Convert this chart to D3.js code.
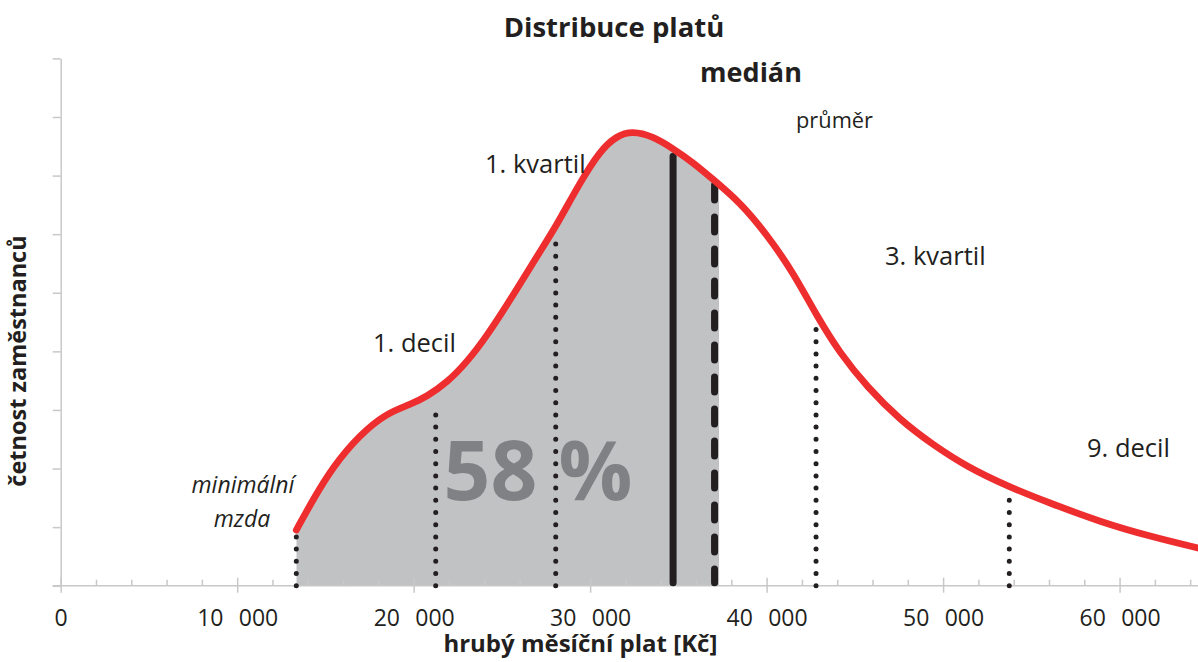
<!DOCTYPE html>
<html>
<head>
    <meta charset="utf-8">
    <title>Distribuce platů</title>
    <script src="https://d3js.org/d3.v7.min.js"></script>
    <style>
        body { margin: 0; background: #fff; }
        svg { display: block; font-family: "Open Sans", sans-serif; }
        .axis path, .axis line { stroke: #c8c8c8; stroke-width: 1.5; }
        .axis text { font-family: "Open Sans", sans-serif; font-size: 23px; fill: #231f20; }
    </style>
</head>
<body>
<div id="chart"></div>
<script>
// křivka rozdělení mezd
const salary = [13350, 14300, 15400, 16950, 18500, 19800, 20750, 21900, 23000, 24150,
    25600, 27150, 28100, 29400, 30550, 31500, 32400, 33550, 34700, 35800,
    36950, 38500, 40000, 41500, 42850, 44150, 45700, 47550, 49450, 51350,
    53700, 56050, 58900, 61750, 64500];
const frequency = [0.95, 1.47, 2.02, 2.58, 2.95, 3.09, 3.23, 3.47, 3.81, 4.26,
    4.94, 5.70, 6.15, 6.87, 7.42, 7.68, 7.76, 7.67, 7.46, 7.23,
    6.94, 6.54, 6.00, 5.35, 4.60, 3.97, 3.39, 2.83, 2.40, 2.03,
    1.69, 1.41, 1.09, 0.84, 0.64];

// svislé značky
const markerNames = ["minimální mzda", "1. decil", "1. kvartil", "medián", "průměr", "3. kvartil", "9. decil"];
const markerSalary = [13350, 21250, 28050, 34700, 37050, 42800, 53750];
const markerTop = [0.86, 3.08, 5.95, 7.33, 6.84, 4.54, 1.47];

const xTicks = [0, 10000, 20000, 30000, 40000, 50000, 60000];
const xMinorTicks = d3.range(2000, 64001, 2000).filter(d => d % 10000 !== 0);
const yTicks = d3.range(0, 10);
const shareLabel = "58 %";

const width = 1198;
const height = 662;

const svg = d3.select("#chart")
    .append("svg")
    .attr("width", width)
    .attr("height", height);

const x = d3.scaleLinear().domain([0, 64500]).range([60.7, 1199]);
const y = d3.scaleLinear().domain([0, 9]).range([585.7, 58.4]);

const points = salary.map((s, i) => [s, frequency[i]]);

// šedá plocha od minimální mzdy po průměr
const meanSalary = markerSalary[markerNames.indexOf("průměr")];
svg.append("clipPath")
    .attr("id", "share")
    .append("rect")
    .attr("x", x(markerSalary[0]))
    .attr("y", 0)
    .attr("width", x(meanSalary) - x(markerSalary[0]) + 4.5)
    .attr("height", y(0));

svg.append("path")
    .datum(points)
    .attr("clip-path", "url(#share)")
    .attr("fill", "#c1c2c4")
    .attr("d", d3.area()
        .x(d => x(d[0]))
        .y0(y(0))
        .y1(d => y(d[1]))
        .curve(d3.curveBasis));

// osy
const fmt = d3.formatLocale({ decimal: ",", thousands: "\u2002\u2009", grouping: [3], currency: ["", " Kč"] }).format(",");

const xAxis = svg.append("g")
    .attr("class", "axis")
    .attr("transform", `translate(0,${y(0)})`)
    .call(d3.axisBottom(x).tickValues(xTicks).tickSize(7).tickSizeOuter(0).tickFormat(fmt));
xAxis.select(".domain").remove();
xAxis.selectAll("text").attr("y", 40).attr("dy", null);

svg.append("g")
    .attr("class", "axis")
    .attr("transform", `translate(0,${y(0)})`)
    .call(d3.axisTop(x).tickValues(xTicks).tickSize(8).tickSizeOuter(0).tickFormat(""))
    .call(g => g.select(".domain").remove());

svg.append("g")
    .attr("class", "axis")
    .attr("transform", `translate(0,${y(0)})`)
    .call(d3.axisTop(x).tickValues(xMinorTicks).tickSize(6).tickSizeOuter(0).tickFormat(""))
    .call(g => g.select(".domain").remove());

svg.append("line")
    .attr("x1", x(0) - 8)
    .attr("x2", width)
    .attr("y1", y(0))
    .attr("y2", y(0))
    .attr("stroke", "#c8c8c8")
    .attr("stroke-width", 1.5);

svg.append("g")
    .attr("class", "axis")
    .attr("transform", `translate(${x(0)},0)`)
    .call(d3.axisLeft(y).tickValues(yTicks).tickSize(8).tickSizeOuter(0).tickFormat(""));

// svislé čáry kvantilů
markerNames.forEach((name, i) => {
    const px = x(markerSalary[i]);
    const line = svg.append("line")
        .attr("x1", px).attr("x2", px)
        .attr("stroke", "#231f20")
        .attr("stroke-linecap", "round");
    if (name === "medián") {
        line.attr("y1", y(0) - 3).attr("y2", y(markerTop[i])).attr("stroke-width", 7);
    } else if (name === "průměr") {
        line.attr("y1", y(markerTop[i])).attr("y2", y(0) - 3)
            .attr("stroke-width", 7)
            .attr("stroke-dasharray", "15 17");
    } else {
        line.attr("y1", y(0)).attr("y2", y(markerTop[i]))
            .attr("stroke-width", 5)
            .attr("stroke-dasharray", "0 12.2");
    }
});

// červená křivka
svg.append("path")
    .datum(points)
    .attr("fill", "none")
    .attr("stroke", "#ee2d2f")
    .attr("stroke-width", 6.8)
    .attr("stroke-linecap", "round")
    .attr("d", d3.line()
        .x(d => x(d[0]))
        .y(d => y(d[1]))
        .curve(d3.curveBasis));

// podíl
svg.append("text")
    .attr("x", 538)
    .attr("y", 500)
    .attr("text-anchor", "middle")
    .attr("font-size", 82)
    .attr("font-weight", "bold")
    .attr("fill", "#808184")
    .text(shareLabel);

// popisky
function label(txt, px, py, opts = {}) {
    return svg.append("text")
        .attr("x", px)
        .attr("y", py)
        .attr("text-anchor", opts.anchor || "start")
        .attr("font-size", opts.size || 25.5)
        .attr("font-weight", opts.weight || "normal")
        .attr("font-style", opts.style || "normal")
        .attr("fill", "#231f20")
        .text(txt);
}

label("Distribuce platů", 614, 36.7, { anchor: "middle", size: 27.5, weight: "bold" });
label("medián", 751, 81.7, { anchor: "middle", size: 27, weight: "bold" });
label("průměr", 834.5, 128, { anchor: "middle", size: 21.8 });
label("1. kvartil", 485, 173);
label("1. decil", 373, 351.7);
label("3. kvartil", 885, 265);
label("9. decil", 1087, 456.7);
label("minimální", 243, 493.3, { anchor: "middle", size: 23, style: "italic" });
label("mzda", 242, 526.7, { anchor: "middle", size: 23, style: "italic" });
label("hrubý měsíční plat [Kč]", 580.4, 652, { anchor: "middle", size: 24, weight: "bold" });

svg.append("text")
    .attr("transform", "translate(26,361) rotate(-90)")
    .attr("text-anchor", "middle")
    .attr("font-size", 23.5)
    .attr("font-weight", "bold")
    .attr("fill", "#231f20")
    .text("četnost zaměstnanců");
</script>
</body>
</html>
